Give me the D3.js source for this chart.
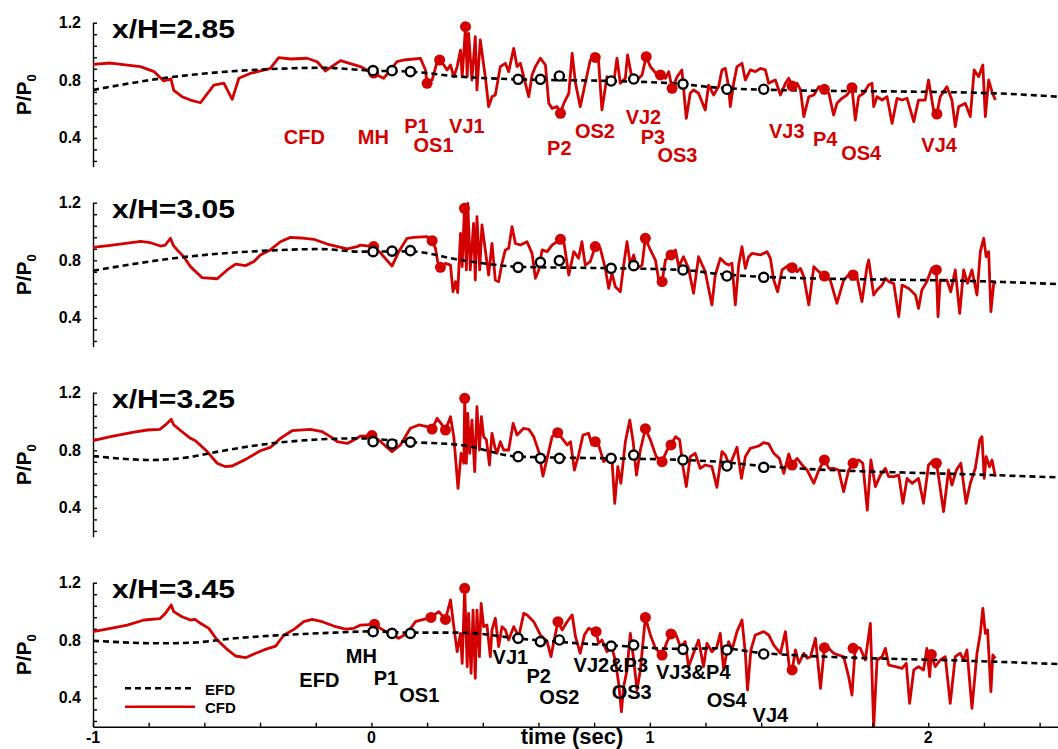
<!DOCTYPE html>
<html>
<head>
<meta charset="utf-8">
<script src="https://cdn.jsdelivr.net/npm/d3@7"></script>
<style>
body { margin: 0; background: #fff; }
svg text { font-family: "Liberation Sans", Arial, sans-serif; font-weight: bold; }
</style>
</head>
<body>
<svg id="chart" width="1058" height="749"></svg>
<script>
// station names, one per panel
const stations = ["x/H=2.85", "x/H=3.05", "x/H=3.25", "x/H=3.45"];

// CFD pressure traces [time (sec), P/P0]
const cfd285 = [[-1.0,0.91],[-0.937,0.92],[-0.83,0.895],[-0.78,0.86],[-0.746,0.795],[-0.72,0.81],[-0.71,0.73],[-0.68,0.686],[-0.65,0.663],[-0.614,0.644],[-0.566,0.767],[-0.53,0.78],[-0.50,0.668],[-0.476,0.814],[-0.434,0.849],[-0.387,0.87],[-0.363,0.883],[-0.333,0.957],[-0.29,0.948],[-0.231,0.953],[-0.195,0.929],[-0.165,0.865],[-0.111,0.936],[-0.04,0.895],
  [0.008,0.848],[0.044,0.814],[0.092,0.929],[0.116,0.941],[0.176,0.953],[0.194,0.872],[0.2,0.779],[0.218,0.802],[0.236,0.929],[0.248,0.941],[0.272,0.872],[0.284,0.906],[0.296,0.825],[0.308,0.895],[0.32,1.01],[0.326,0.825],[0.338,1.172],[0.344,0.825],[0.349,1.126],[0.361,0.802],[0.373,1.103],[0.379,0.733],[0.391,1.08],[0.409,0.825],[0.421,0.617],[0.433,0.686],[0.445,0.698],[0.463,0.895],[0.481,0.918],[0.493,0.86],[0.511,1.022],[0.523,0.895],[0.535,0.918],[0.553,0.779],[0.565,0.686],[0.577,0.837],[0.589,0.895],[0.607,0.953],[0.625,0.906],[0.637,0.64],[0.649,0.605],[0.667,0.617],[0.679,0.571],[0.691,0.64],[0.709,0.71],[0.721,0.987],[0.733,0.779],[0.75,0.617],[0.768,0.779],[0.786,0.941],[0.804,0.959],[0.816,0.929],[0.828,0.594],[0.846,0.825],[0.858,0.779],[0.87,0.779],[0.882,0.953],[0.894,0.779],[0.912,0.814],[0.92,0.976],[0.936,0.814],[0.954,0.802],[0.972,0.837],[0.987,0.964],[1.002,0.895],[1.026,0.837],[1.038,0.837],[1.056,0.814],[1.068,0.86],[1.08,0.744],[1.098,0.825],[1.115,0.872],[1.131,0.536],[1.145,0.71],[1.157,0.733],[1.175,0.71],
  [1.199,0.594],[1.211,0.767],[1.229,0.698],[1.247,0.756],[1.259,0.872],[1.271,0.883],[1.283,0.756],[1.289,0.617],[1.301,0.779],[1.313,0.895],[1.331,0.918],[1.343,0.802],[1.361,0.872],[1.379,0.86],[1.397,0.883],[1.415,0.872],[1.427,0.779],[1.439,0.791],[1.451,0.802],[1.469,0.698],[1.487,0.779],[1.499,0.814],[1.511,0.76],[1.529,0.779],[1.541,0.733],[1.553,0.548],[1.571,0.686],[1.589,0.698],[1.607,0.756],[1.627,0.737],[1.643,0.71],[1.66,0.559],[1.672,0.64],[1.69,0.675],[1.708,0.698],[1.726,0.749],[1.738,0.524],[1.75,0.686],[1.768,0.71],[1.786,0.767],[1.798,0.779],[1.804,0.617],[1.816,0.686],[1.834,0.663],[1.852,0.686],[1.87,0.501],[1.888,0.675],[1.906,0.663],[1.924,0.675],[1.948,0.513],[1.965,0.663],[1.989,0.663],[2.001,0.802],[2.019,0.594],[2.031,0.566],[2.043,0.686],[2.067,0.756],[2.085,0.663],[2.097,0.478],[2.109,0.617],[2.133,0.64],[2.151,0.548],[2.165,0.872],[2.181,0.825],[2.196,0.906],[2.205,0.548],[2.217,0.802],[2.229,0.721],[2.241,0.663]];

const cfd305 = [[-1,0.89],[-0.937,0.904],[-0.829,0.932],[-0.793,0.922],[-0.758,0.899],[-0.74,0.906],[-0.722,0.953],[-0.712,0.906],[-0.698,0.872],[-0.674,0.825],[-0.65,0.756],[-0.608,0.679],[-0.554,0.672],[-0.518,0.733],[-0.488,0.774],[-0.452,0.763],[-0.422,0.791],[-0.399,0.837],[-0.363,0.872],[-0.327,0.929],[-0.291,0.959],[-0.255,0.955],[-0.207,0.946],[-0.159,0.913],[-0.087,0.879],[-0.051,0.895],
  [-0.039,0.906],[0.008,0.895],[0.032,0.853],[0.074,0.76],[0.098,0.86],[0.128,0.953],[0.152,0.959],[0.2,0.964],[0.218,0.936],[0.23,0.883],[0.238,0.791],[0.248,0.751],[0.266,0.779],[0.284,0.767],[0.293,0.582],[0.302,0.652],[0.31,0.575],[0.32,0.987],[0.326,0.756],[0.334,1.161],[0.341,0.733],[0.346,1.196],[0.355,0.733],[0.367,1.057],[0.373,0.663],[0.379,1.103],[0.389,0.733],[0.397,1.045],[0.409,0.872],[0.421,0.698],[0.433,0.918],[0.445,0.663],[0.457,0.652],[0.469,0.779],[0.481,0.872],[0.493,0.883],[0.505,1.033],[0.517,0.918],[0.535,0.906],[0.559,0.929],[0.577,0.848],[0.589,0.675],[0.601,0.733],[0.613,0.872],[0.631,0.86],[0.649,0.906],[0.679,0.946],[0.691,0.929],[0.709,0.698],[0.727,0.86],[0.744,0.814],[0.756,0.929],[0.768,0.767],[0.786,0.791],[0.804,0.895],[0.822,0.883],[0.84,0.744],[0.852,0.605],[0.864,0.71],[0.876,0.617],[0.894,0.582],[0.906,0.767],[0.918,0.929],[0.93,0.767],[0.942,0.837],[0.954,0.744],[0.972,0.767],[0.984,0.953],[1.002,0.872],[1.02,0.802],[1.032,0.663],[1.044,0.652],[1.056,0.802],[1.076,0.837],[1.092,0.872],[1.104,0.756],[1.121,0.825],[1.139,0.744],[1.157,0.571],[1.175,0.825],
  [1.199,0.721],[1.223,0.49],[1.235,0.698],[1.253,0.814],[1.271,0.779],[1.283,0.767],[1.295,0.779],[1.307,0.49],[1.319,0.767],[1.331,0.895],[1.343,0.744],[1.355,0.825],[1.367,0.848],[1.397,0.837],[1.421,0.86],[1.433,0.814],[1.445,0.663],[1.459,0.582],[1.475,0.733],[1.499,0.767],[1.511,0.751],[1.529,0.721],[1.541,0.744],[1.553,0.686],[1.571,0.49],[1.589,0.756],[1.607,0.721],[1.627,0.691],[1.648,0.663],[1.672,0.501],[1.696,0.663],[1.714,0.698],[1.73,0.698],[1.744,0.686],[1.762,0.513],[1.78,0.756],[1.786,0.802],[1.804,0.559],[1.816,0.594],[1.834,0.628],[1.846,0.675],[1.858,0.652],[1.876,0.64],[1.894,0.409],[1.906,0.628],[1.93,0.605],[1.954,0.559],[1.965,0.466],[1.977,0.594],[1.995,0.652],[2.013,0.744],[2.029,0.733],[2.035,0.409],[2.043,0.663],[2.067,0.663],[2.081,0.582],[2.097,0.733],[2.113,0.432],[2.127,0.733],[2.141,0.64],[2.157,0.733],[2.175,0.559],[2.187,0.86],[2.199,0.953],[2.208,0.825],[2.217,0.86],[2.225,0.443],[2.235,0.64],[2.244,0.645]];

const cfd325 = [[-1,0.867],[-0.937,0.895],[-0.853,0.927],[-0.805,0.941],[-0.76,0.945],[-0.74,0.976],[-0.719,1.015],[-0.71,0.976],[-0.68,0.929],[-0.65,0.883],[-0.632,0.867],[-0.59,0.791],[-0.554,0.71],[-0.524,0.686],[-0.5,0.691],[-0.452,0.737],[-0.399,0.797],[-0.363,0.82],[-0.327,0.883],[-0.285,0.936],[-0.219,0.945],[-0.177,0.929],[-0.147,0.895],[-0.123,0.86],[-0.087,0.848],[-0.063,0.872],[-0.039,0.899],
  [0.002,0.902],[0.026,0.872],[0.074,0.791],[0.104,0.837],[0.14,0.953],[0.17,0.976],[0.2,0.964],[0.218,0.948],[0.236,1.022],[0.254,0.976],[0.266,0.941],[0.284,1.033],[0.296,0.895],[0.311,0.536],[0.322,0.779],[0.332,0.71],[0.335,1.161],[0.341,0.71],[0.346,1.057],[0.353,0.779],[0.361,1.01],[0.371,0.652],[0.379,1.103],[0.388,0.802],[0.395,1.033],[0.403,0.895],[0.413,0.872],[0.424,0.698],[0.433,0.918],[0.443,0.825],[0.451,0.779],[0.463,0.86],[0.475,0.802],[0.493,0.802],[0.509,0.987],[0.523,0.906],[0.547,0.953],[0.565,0.946],[0.583,0.895],[0.601,0.791],[0.616,0.621],[0.631,0.744],[0.649,0.895],[0.669,0.922],[0.685,0.883],[0.703,0.837],[0.715,0.86],[0.729,0.663],[0.744,0.767],[0.76,0.906],[0.78,0.918],[0.792,0.837],[0.804,0.86],[0.816,0.837],[0.834,0.721],[0.852,0.744],[0.864,0.733],[0.874,0.432],[0.885,0.686],[0.896,0.571],[0.912,0.86],[0.928,1.01],[0.94,0.86],[0.952,0.628],[0.966,0.802],[0.984,0.95],[1.002,0.872],[1.023,0.756],[1.044,0.721],[1.062,0.802],[1.076,0.837],[1.092,0.895],[1.107,0.872],[1.119,0.686],[1.131,0.548],[1.145,0.756],[1.163,0.779],
  [1.181,0.675],[1.199,0.698],[1.223,0.686],[1.241,0.543],[1.259,0.791],[1.271,0.767],[1.283,0.71],[1.295,0.733],[1.313,0.821],[1.329,0.605],[1.343,0.756],[1.361,0.814],[1.391,0.83],[1.409,0.853],[1.427,0.844],[1.445,0.779],[1.465,0.744],[1.481,0.64],[1.499,0.774],[1.511,0.698],[1.529,0.744],[1.547,0.698],[1.565,0.663],[1.589,0.571],[1.607,0.663],[1.627,0.733],[1.643,0.675],[1.66,0.675],[1.678,0.663],[1.696,0.513],[1.714,0.663],[1.73,0.71],[1.75,0.733],[1.765,0.71],[1.781,0.385],[1.794,0.733],[1.81,0.548],[1.828,0.628],[1.846,0.675],[1.858,0.617],[1.876,0.617],[1.894,0.628],[1.909,0.432],[1.924,0.605],[1.942,0.571],[1.965,0.605],[1.983,0.432],[2.001,0.698],[2.019,0.733],[2.029,0.71],[2.037,0.617],[2.055,0.374],[2.073,0.663],[2.085,0.559],[2.101,0.663],[2.117,0.71],[2.136,0.432],[2.151,0.571],[2.169,0.675],[2.185,0.872],[2.193,0.895],[2.201,0.605],[2.208,0.756],[2.22,0.686],[2.229,0.733],[2.241,0.617]];

const cfd345 = [[-1,0.86],[-0.937,0.883],[-0.877,0.906],[-0.817,0.941],[-0.76,0.95],[-0.74,0.987],[-0.719,1.045],[-0.71,0.999],[-0.68,0.964],[-0.65,0.941],[-0.634,0.946],[-0.614,0.918],[-0.584,0.883],[-0.554,0.802],[-0.518,0.737],[-0.488,0.691],[-0.452,0.679],[-0.422,0.705],[-0.386,0.733],[-0.344,0.76],[-0.314,0.837],[-0.278,0.876],[-0.243,0.929],[-0.213,0.945],[-0.177,0.929],[-0.135,0.899],[-0.093,0.878],[-0.063,0.883],[-0.039,0.906],
  [0.011,0.911],[0.032,0.883],[0.074,0.837],[0.098,0.814],[0.128,0.848],[0.158,0.929],[0.214,0.959],[0.242,0.999],[0.266,0.946],[0.284,1.08],[0.296,0.895],[0.308,0.721],[0.32,0.848],[0.326,0.64],[0.335,1.161],[0.344,0.617],[0.349,0.987],[0.358,0.571],[0.365,1.01],[0.373,0.536],[0.379,1.01],[0.388,0.686],[0.394,1.057],[0.403,0.895],[0.415,0.906],[0.427,0.686],[0.433,0.872],[0.445,0.953],[0.457,0.756],[0.469,0.895],[0.481,0.872],[0.493,0.802],[0.511,0.895],[0.529,0.825],[0.547,0.987],[0.559,0.976],[0.583,0.929],[0.607,0.837],[0.631,0.791],[0.645,0.686],[0.655,0.791],[0.67,0.929],[0.685,0.872],[0.703,0.929],[0.721,0.976],[0.733,0.825],[0.75,0.71],[0.765,0.837],[0.78,0.883],[0.807,0.86],[0.816,0.779],[0.828,0.802],[0.846,0.721],[0.864,0.744],[0.876,0.663],[0.888,0.501],[0.898,0.304],[0.906,0.478],[0.918,0.594],[0.93,0.848],[0.942,0.663],[0.954,0.455],[0.966,0.594],[0.984,0.959],[1.002,0.837],[1.02,0.744],[1.044,0.698],[1.062,0.791],[1.076,0.844],[1.092,0.848],[1.11,0.756],[1.127,0.791],[1.139,0.617],[1.157,0.71],[1.175,0.802],
  [1.193,0.617],[1.205,0.779],[1.223,0.721],[1.241,0.756],[1.253,0.848],[1.265,0.594],[1.283,0.791],[1.295,0.733],[1.313,0.86],[1.331,0.941],[1.343,0.71],[1.351,0.455],[1.363,0.733],[1.379,0.837],[1.409,0.86],[1.427,0.837],[1.445,0.767],[1.469,0.71],[1.487,0.86],[1.502,0.594],[1.511,0.594],[1.523,0.733],[1.535,0.64],[1.553,0.71],[1.565,0.675],[1.577,0.686],[1.595,0.814],[1.613,0.466],[1.627,0.749],[1.643,0.744],[1.66,0.71],[1.696,0.686],[1.714,0.548],[1.726,0.42],[1.738,0.756],[1.756,0.744],[1.774,0.663],[1.792,0.918],[1.804,0.2],[1.816,0.663],[1.834,0.686],[1.846,0.744],[1.858,0.628],[1.882,0.617],[1.906,0.605],[1.921,0.64],[1.933,0.362],[1.948,0.594],[1.965,0.617],[1.983,0.594],[1.995,0.744],[2.005,0.548],[2.011,0.702],[2.025,0.617],[2.043,0.663],[2.061,0.686],[2.079,0.362],[2.097,0.686],[2.115,0.71],[2.127,0.663],[2.139,0.733],[2.157,0.328],[2.175,0.71],[2.187,0.848],[2.196,1.022],[2.205,0.848],[2.213,0.872],[2.225,0.443],[2.232,0.698],[2.241,0.675]];

// EFD (experiment) traces [time, P/P0]
const efd285 = [[-1,0.733],[-0.75,0.814],[-0.36,0.878],[-0.17,0.887],[0,0.867],[0.14,0.86],[0.32,0.825],[0.52,0.807],[0.86,0.795],[1.12,0.774],[1.18,0.76],[1.35,0.738],[2.23,0.71],[2.466,0.686]];
const efd305 = [[-1,0.728],[-0.68,0.821],[-0.375,0.867],[-0.183,0.878],[-0.04,0.86],[0.14,0.862],[0.32,0.802],[0.53,0.755],[0.86,0.745],[1.12,0.733],[1.25,0.705],[1.41,0.685],[2.23,0.652],[2.466,0.635]];
const efd325 = [[-1,0.76],[-0.79,0.733],[-0.66,0.751],[-0.55,0.791],[-0.375,0.844],[-0.183,0.876],[-0.04,0.883],[0.14,0.857],[0.32,0.837],[0.53,0.756],[0.86,0.744],[1.12,0.733],[1.25,0.72],[1.41,0.69],[2.23,0.628],[2.466,0.612]];
const efd345 = [[-1,0.797],[-0.76,0.779],[-0.65,0.783],[-0.49,0.814],[-0.315,0.837],[-0.135,0.853],[0,0.862],[0.14,0.853],[0.32,0.853],[0.54,0.81],[0.86,0.765],[1.12,0.74],[1.25,0.745],[1.41,0.71],[2.23,0.652],[2.466,0.635]];

// CFD event markers (MH, P1, OS1, VJ1, P2, OS2, VJ2, P3, OS3, VJ3, P4, OS4, VJ4)
const cfdEvents285 = [[0.008,0.85],[0.2,0.779],[0.245,0.941],[0.338,1.172],[0.679,0.571],[0.804,0.959],[0.987,0.964],[1.038,0.837],[1.08,0.744],[1.511,0.76],[1.627,0.737],[1.726,0.749],[2.031,0.566]];
const cfdEvents305 = [[0.008,0.895],[0.218,0.936],[0.248,0.751],[0.334,1.161],[0.679,0.946],[0.804,0.895],[0.984,0.953],[1.044,0.652],[1.076,0.837],[1.511,0.749],[1.627,0.691],[1.73,0.698],[2.029,0.733]];
const cfdEvents325 = [[0.002,0.902],[0.218,0.948],[0.266,0.941],[0.335,1.161],[0.669,0.922],[0.804,0.86],[0.984,0.95],[1.044,0.721],[1.076,0.837],[1.511,0.698],[1.627,0.733],[1.73,0.71],[2.029,0.71]];
const cfdEvents345 = [[0.011,0.911],[0.214,0.959],[0.266,0.945],[0.335,1.161],[0.67,0.929],[0.807,0.86],[0.984,0.959],[1.044,0.698],[1.076,0.844],[1.511,0.594],[1.627,0.749],[1.73,0.744],[2.011,0.702]];

// EFD event markers: shared times, per-station values
const efdEventTimes = [0.006, 0.074, 0.14, 0.527, 0.607, 0.675, 0.861, 0.942, 1.119, 1.277, 1.409];
const efdEvents285 = [0.867, 0.867, 0.86, 0.807, 0.807, 0.83, 0.795, 0.809, 0.774, 0.738, 0.738];
const efdEvents305 = [0.86, 0.864, 0.867, 0.751, 0.786, 0.798, 0.744, 0.763, 0.733, 0.691, 0.682];
const efdEvents325 = [0.86, 0.844, 0.857, 0.756, 0.744, 0.744, 0.744, 0.767, 0.733, 0.691, 0.682];
const efdEvents345 = [0.86, 0.848, 0.848, 0.814, 0.791, 0.802, 0.76, 0.767, 0.737, 0.733, 0.705];

// annotation labels [text, time, P/P0]
const cfdLabels = [["CFD",-0.241,0.403],["MH",0.007,0.406],["P1",0.162,0.486],["OS1",0.223,0.351],["VJ1",0.343,0.486],["P2",0.675,0.333],["OS2",0.803,0.451],["VJ2",0.977,0.545],["P3",1.011,0.405],["OS3",1.099,0.281],["VJ3",1.492,0.448],["P4",1.63,0.389],["OS4",1.759,0.292],["VJ4",2.039,0.354]];
const efdLabels = [["EFD",-0.187,0.521],["MH",-0.036,0.688],["P1",0.052,0.535],["OS1",0.172,0.418],["VJ1",0.499,0.685],["P2",0.601,0.549],["OS2",0.675,0.406],["VJ2&P3",0.86,0.628],["OS3",0.935,0.444],["VJ3&P4",1.156,0.583],["OS4",1.276,0.382],["VJ4",1.433,0.278]];

const yTickLabels = [0.4, 0.8, 1.2];
const xTickLabels = [-1, 0, 1, 2];

const red = "#d20000";
const svg = d3.select("#chart");

const x = d3.scaleLinear().domain([-1, 2.466]).range([93, 1058]);
const panelTops = [22.7, 202.7, 392.7, 582.7];
const panelH = 144;

const panels = [
    { cfd: cfd285, efd: efd285, cev: cfdEvents285, eev: efdEvents285 },
    { cfd: cfd305, efd: efd305, cev: cfdEvents305, eev: efdEvents305 },
    { cfd: cfd325, efd: efd325, cev: cfdEvents325, eev: efdEvents325 },
    { cfd: cfd345, efd: efd345, cev: cfdEvents345, eev: efdEvents345 }
];

const yScales = [];

panels.forEach((p, i) => {
    const top = panelTops[i];
    const y = d3.scaleLinear().domain([0.2, 1.2]).range([top + panelH, top]);
    yScales.push(y);
    const g = svg.append("g");

    // y axis with inward ticks
    const yAxis = d3.axisRight(y)
        .tickValues(d3.range(0.24, 1.21, 0.08))
        .tickSize(4)
        .tickSizeOuter(0)
        .tickFormat("");
    const ya = g.append("g")
        .attr("transform", `translate(${x(-1)},0)`)
        .call(yAxis);
    ya.selectAll("path, line").attr("stroke", "#000").attr("stroke-width", 1.4);

    g.selectAll(".ylab")
        .data(yTickLabels)
        .join("text")
        .attr("x", 81)
        .attr("y", d => y(d))
        .attr("text-anchor", "end")
        .attr("dominant-baseline", "central")
        .attr("font-size", 16)
        .text(d => d.toFixed(1));

    // axis title P/P0
    const yt = g.append("text")
        .attr("transform", `translate(31,${top + panelH / 2}) rotate(-90)`)
        .attr("text-anchor", "middle")
        .attr("font-size", 21);
    yt.append("tspan").text("P/P");
    yt.append("tspan").attr("dy", 5).attr("font-size", 13).text("0");

    // station title
    g.append("text")
        .attr("x", 112)
        .attr("y", top + 15.6)
        .attr("font-size", 25)
        .attr("textLength", 123)
        .attr("lengthAdjust", "spacingAndGlyphs")
        .text(stations[i]);

    const line = d3.line().x(d => x(d[0])).y(d => y(d[1]));

    g.append("path")
        .datum(p.cfd)
        .attr("d", line)
        .attr("fill", "none")
        .attr("stroke", red)
        .attr("stroke-width", 2.8)
        .attr("stroke-linejoin", "round");

    g.append("path")
        .datum(p.efd)
        .attr("d", line.curve(d3.curveMonotoneX))
        .attr("fill", "none")
        .attr("stroke", "#000")
        .attr("stroke-width", 2.6)
        .attr("stroke-dasharray", "6,4");

    g.selectAll(".cev")
        .data(p.cev)
        .join("circle")
        .attr("cx", d => x(d[0]))
        .attr("cy", d => y(d[1]))
        .attr("r", 5.5)
        .attr("fill", red);

    g.selectAll(".eev")
        .data(p.eev)
        .join("circle")
        .attr("cx", (d, k) => x(efdEventTimes[k]))
        .attr("cy", d => y(d))
        .attr("r", 4.6)
        .attr("fill", "#fff")
        .attr("stroke", "#000")
        .attr("stroke-width", 2.4);
});

// event labels
svg.append("g").selectAll("text")
    .data(cfdLabels)
    .join("text")
    .attr("x", d => x(d[1]))
    .attr("y", d => yScales[0](d[2]))
    .attr("text-anchor", "middle")
    .attr("dominant-baseline", "central")
    .attr("font-size", 20)
    .attr("fill", red)
    .text(d => d[0]);

svg.append("g").selectAll("text")
    .data(efdLabels)
    .join("text")
    .attr("x", d => x(d[1]))
    .attr("y", d => yScales[3](d[2]))
    .attr("text-anchor", "middle")
    .attr("dominant-baseline", "central")
    .attr("font-size", 20)
    .attr("fill", "#000")
    .text(d => d[0]);

// bottom time axis, ticks pointing up
const xBase = panelTops[3] + panelH;
const xAxis = d3.axisTop(x)
    .tickValues(d3.range(-1, 2.45, 0.2))
    .tickSize(4)
    .tickSizeOuter(0)
    .tickFormat("");
const xa = svg.append("g")
    .attr("transform", `translate(0,${xBase})`)
    .call(xAxis);
xa.selectAll("path, line").attr("stroke", "#000").attr("stroke-width", 1.4);

svg.append("g").selectAll("text")
    .data(xTickLabels)
    .join("text")
    .attr("x", d => x(d))
    .attr("y", xBase + 11)
    .attr("text-anchor", "middle")
    .attr("dominant-baseline", "central")
    .attr("font-size", 16)
    .text(d => d);

svg.append("text")
    .attr("x", 572)
    .attr("y", xBase + 17)
    .attr("text-anchor", "middle")
    .attr("font-size", 22)
    .text("time (sec)");

// legend
const leg = svg.append("g");
leg.append("line")
    .attr("x1", 125).attr("x2", 195)
    .attr("y1", 688.3).attr("y2", 688.3)
    .attr("stroke", "#000").attr("stroke-width", 2.5)
    .attr("stroke-dasharray", "6,4");
leg.append("line")
    .attr("x1", 125).attr("x2", 195)
    .attr("y1", 706.7).attr("y2", 706.7)
    .attr("stroke", red).attr("stroke-width", 2.5);
leg.append("text").attr("x", 205).attr("y", 689).attr("dominant-baseline", "central").attr("font-size", 15).text("EFD");
leg.append("text").attr("x", 205).attr("y", 707).attr("dominant-baseline", "central").attr("font-size", 15).text("CFD");
</script>
</body>
</html>
